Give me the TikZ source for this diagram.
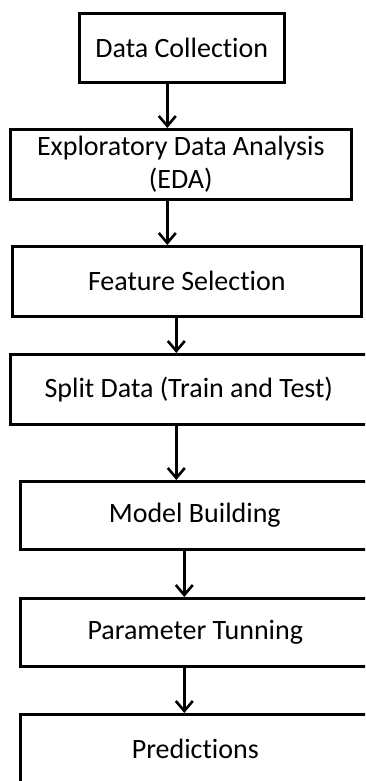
\documentclass[tikz,border=0pt]{standalone}
\usepackage{fontspec}
\setmainfont[Ligatures=NoCommon]{Carlito}
\usetikzlibrary{arrows.meta,positioning}

\begin{document}
\begin{tikzpicture}[x=1pt, y=-1pt,
  stage/.style={rectangle, draw=black, line width=2.6pt, fill=white, anchor=north west,
    minimum height=69pt, inner sep=0pt, align=center, font=\fontsize{28}{33}\selectfont},
  arr/.style={-{Straight Barb[length=10pt, width=17pt, line width=2.6pt]}, line width=2.6pt}]
\useasboundingbox (0,0) rectangle (365,781);
\clip (0,0) rectangle (365,781);
% pipeline stages, top to bottom
\node[stage, minimum width=205pt] (dc) at (78,12) {Data Collection};
\node[stage, minimum width=341pt, minimum height=70pt] (eda) at (9,128) {Exploratory Data Analysis\\(EDA)};
\node[stage, minimum width=349pt, minimum height=70pt] (fs) at (11,245) {Feature Selection};
\node[stage, minimum width=357pt, minimum height=70pt] (sd) at (9,353) {Split Data (Train and Test)};
\node[stage, minimum width=349pt, minimum height=68pt] (mb) at (19,480) {Model Building};
\node[stage, minimum width=350pt, minimum height=68pt] (pt) at (19,597) {Parameter Tunning};
\node[stage, minimum width=350pt] (pr) at (19,713) {Predictions};
% connectors
\draw[arr] ([xshift=-14.5pt]dc.south) -- ([xshift=-14.5pt]dc.south |- eda.north);
\draw[arr] ([xshift=-13.5pt]eda.south) -- ([xshift=-13.5pt]eda.south |- fs.north);
\draw[arr] ([xshift=-10.5pt]fs.south) -- ([xshift=-10.5pt]fs.south |- sd.north);
\draw[arr] ([xshift=-12.5pt]sd.south) -- ([xshift=-12.5pt]sd.south |- mb.north);
\draw[arr] ([xshift=-10.5pt]mb.south) -- ([xshift=-10.5pt]mb.south |- pt.north);
\draw[arr] ([xshift=-11pt]pt.south) -- ([xshift=-11pt]pt.south |- pr.north);
\end{tikzpicture}
\end{document}
